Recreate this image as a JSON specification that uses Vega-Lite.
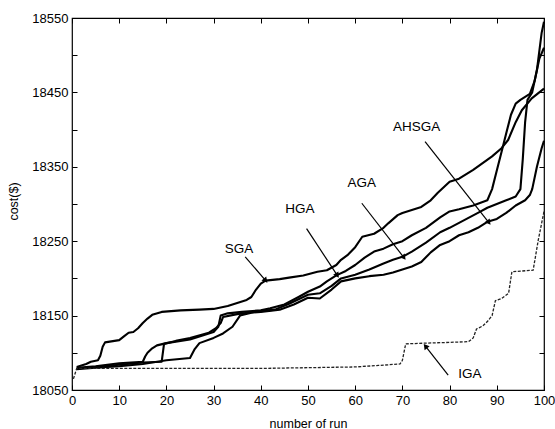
{
  "$schema": "https://vega.github.io/schema/vega-lite/v6.json",
  "width": 472,
  "height": 372,
  "autosize": "none",
  "padding": {"left": 72, "top": 18, "right": 11, "bottom": 39},
  "background": "white",
  "config": {
    "view": {"stroke": "black", "strokeWidth": 1.2},
    "font": "Liberation Sans",
    "axis": {
      "domain": false,
      "grid": false,
      "ticks": true,
      "tickColor": "black",
      "tickSize": -5,
      "tickWidth": 1,
      "labelPadding": 9,
      "labelFont": "Liberation Sans",
      "labelFontSize": 13,
      "labelColor": "black",
      "labelFlush": false,
      "labelOverlap": false,
      "labelBound": false,
      "titleFont": "Liberation Sans",
      "titleFontSize": 12.5,
      "titleFontWeight": "normal",
      "titleColor": "black"
    }
  },
  "datasets": {
    "solid": [
      {"s":"SGA","run":1,"cost":18081},{"s":"SGA","run":2,"cost":18083},{"s":"SGA","run":3,"cost":18085},{"s":"SGA","run":4,"cost":18088},{"s":"SGA","run":5.5,"cost":18090},{"s":"SGA","run":6,"cost":18096},{"s":"SGA","run":6.5,"cost":18108},{"s":"SGA","run":7,"cost":18114},{"s":"SGA","run":8,"cost":18115},{"s":"SGA","run":9,"cost":18116},{"s":"SGA","run":10,"cost":18117},{"s":"SGA","run":11,"cost":18122},{"s":"SGA","run":12,"cost":18127},{"s":"SGA","run":13,"cost":18128},{"s":"SGA","run":14,"cost":18133},{"s":"SGA","run":15,"cost":18140},{"s":"SGA","run":16,"cost":18146},{"s":"SGA","run":17,"cost":18151},{"s":"SGA","run":19,"cost":18155},{"s":"SGA","run":23,"cost":18157},{"s":"SGA","run":27,"cost":18158},{"s":"SGA","run":30,"cost":18159},{"s":"SGA","run":33,"cost":18163},{"s":"SGA","run":35,"cost":18167},{"s":"SGA","run":37,"cost":18171},{"s":"SGA","run":38,"cost":18175},{"s":"SGA","run":39,"cost":18185},{"s":"SGA","run":40,"cost":18193},{"s":"SGA","run":41,"cost":18197},{"s":"SGA","run":44,"cost":18199},{"s":"SGA","run":46,"cost":18201},{"s":"SGA","run":49,"cost":18204},{"s":"SGA","run":52,"cost":18209},{"s":"SGA","run":54,"cost":18211},{"s":"SGA","run":56,"cost":18218},{"s":"SGA","run":57,"cost":18225},{"s":"SGA","run":58.5,"cost":18232},{"s":"SGA","run":60,"cost":18242},{"s":"SGA","run":61.5,"cost":18256},{"s":"SGA","run":64,"cost":18260},{"s":"SGA","run":66,"cost":18268},{"s":"SGA","run":67,"cost":18274},{"s":"SGA","run":69,"cost":18285},{"s":"SGA","run":70,"cost":18288},{"s":"SGA","run":72,"cost":18292},{"s":"SGA","run":74,"cost":18296},{"s":"SGA","run":76,"cost":18305},{"s":"SGA","run":77.5,"cost":18315},{"s":"SGA","run":80,"cost":18330},{"s":"SGA","run":82,"cost":18334},{"s":"SGA","run":85,"cost":18346},{"s":"SGA","run":87,"cost":18355},{"s":"SGA","run":89,"cost":18364},{"s":"SGA","run":91,"cost":18375},{"s":"SGA","run":92.4,"cost":18386},{"s":"SGA","run":94,"cost":18410},{"s":"SGA","run":95.3,"cost":18426},{"s":"SGA","run":97.4,"cost":18442},{"s":"SGA","run":100,"cost":18455},

      {"s":"HGA","run":1,"cost":18080},{"s":"HGA","run":5,"cost":18082},{"s":"HGA","run":10,"cost":18086},{"s":"HGA","run":15,"cost":18088},{"s":"HGA","run":15.5,"cost":18095},{"s":"HGA","run":16,"cost":18100},{"s":"HGA","run":17,"cost":18106},{"s":"HGA","run":18,"cost":18110},{"s":"HGA","run":20,"cost":18113},{"s":"HGA","run":23,"cost":18116},{"s":"HGA","run":25,"cost":18118},{"s":"HGA","run":28,"cost":18124},{"s":"HGA","run":30,"cost":18128},{"s":"HGA","run":31,"cost":18135},{"s":"HGA","run":31.5,"cost":18150},{"s":"HGA","run":33,"cost":18153},{"s":"HGA","run":36,"cost":18155},{"s":"HGA","run":40,"cost":18157},{"s":"HGA","run":42,"cost":18160},{"s":"HGA","run":45,"cost":18165},{"s":"HGA","run":48,"cost":18175},{"s":"HGA","run":50,"cost":18182},{"s":"HGA","run":52.5,"cost":18189},{"s":"HGA","run":54,"cost":18196},{"s":"HGA","run":56,"cost":18204},{"s":"HGA","run":58,"cost":18210},{"s":"HGA","run":60,"cost":18218},{"s":"HGA","run":62,"cost":18228},{"s":"HGA","run":64,"cost":18236},{"s":"HGA","run":66,"cost":18240},{"s":"HGA","run":68,"cost":18246},{"s":"HGA","run":70,"cost":18250},{"s":"HGA","run":72,"cost":18258},{"s":"HGA","run":75,"cost":18268},{"s":"HGA","run":78,"cost":18282},{"s":"HGA","run":80,"cost":18290},{"s":"HGA","run":82,"cost":18293},{"s":"HGA","run":85,"cost":18298},{"s":"HGA","run":88,"cost":18305},{"s":"HGA","run":89,"cost":18320},{"s":"HGA","run":90,"cost":18345},{"s":"HGA","run":91,"cost":18370},{"s":"HGA","run":92,"cost":18395},{"s":"HGA","run":93,"cost":18420},{"s":"HGA","run":94,"cost":18435},{"s":"HGA","run":95,"cost":18440},{"s":"HGA","run":97,"cost":18448},{"s":"HGA","run":98,"cost":18465},{"s":"HGA","run":99,"cost":18495},{"s":"HGA","run":100,"cost":18510},

      {"s":"AGA","run":1,"cost":18079},{"s":"AGA","run":5,"cost":18081},{"s":"AGA","run":10,"cost":18084},{"s":"AGA","run":15,"cost":18087},{"s":"AGA","run":19,"cost":18088},{"s":"AGA","run":19.5,"cost":18112},{"s":"AGA","run":22,"cost":18116},{"s":"AGA","run":25,"cost":18120},{"s":"AGA","run":29,"cost":18127},{"s":"AGA","run":30.5,"cost":18133},{"s":"AGA","run":31.5,"cost":18140},{"s":"AGA","run":32,"cost":18148},{"s":"AGA","run":35,"cost":18152},{"s":"AGA","run":40,"cost":18156},{"s":"AGA","run":43,"cost":18158},{"s":"AGA","run":46,"cost":18166},{"s":"AGA","run":50,"cost":18178},{"s":"AGA","run":52.5,"cost":18180},{"s":"AGA","run":55,"cost":18190},{"s":"AGA","run":57,"cost":18200},{"s":"AGA","run":60,"cost":18205},{"s":"AGA","run":63,"cost":18212},{"s":"AGA","run":66,"cost":18220},{"s":"AGA","run":68,"cost":18225},{"s":"AGA","run":70,"cost":18229},{"s":"AGA","run":72,"cost":18236},{"s":"AGA","run":75,"cost":18248},{"s":"AGA","run":78,"cost":18262},{"s":"AGA","run":80,"cost":18268},{"s":"AGA","run":83,"cost":18278},{"s":"AGA","run":86,"cost":18288},{"s":"AGA","run":88,"cost":18295},{"s":"AGA","run":90,"cost":18300},{"s":"AGA","run":92,"cost":18305},{"s":"AGA","run":94,"cost":18310},{"s":"AGA","run":95,"cost":18320},{"s":"AGA","run":95.5,"cost":18360},{"s":"AGA","run":96,"cost":18410},{"s":"AGA","run":96.5,"cost":18440},{"s":"AGA","run":97.5,"cost":18450},{"s":"AGA","run":98.5,"cost":18480},{"s":"AGA","run":99.5,"cost":18530},{"s":"AGA","run":100,"cost":18545},

      {"s":"AHSGA","run":1,"cost":18078},{"s":"AHSGA","run":5,"cost":18080},{"s":"AHSGA","run":10,"cost":18082},{"s":"AHSGA","run":15,"cost":18085},{"s":"AHSGA","run":20,"cost":18090},{"s":"AHSGA","run":25,"cost":18093},{"s":"AHSGA","run":26,"cost":18105},{"s":"AHSGA","run":27,"cost":18113},{"s":"AHSGA","run":30,"cost":18120},{"s":"AHSGA","run":32,"cost":18126},{"s":"AHSGA","run":34,"cost":18135},{"s":"AHSGA","run":35.6,"cost":18150},{"s":"AHSGA","run":38,"cost":18154},{"s":"AHSGA","run":40,"cost":18155},{"s":"AHSGA","run":44,"cost":18158},{"s":"AHSGA","run":47,"cost":18165},{"s":"AHSGA","run":50,"cost":18174},{"s":"AHSGA","run":52.5,"cost":18173},{"s":"AHSGA","run":55,"cost":18185},{"s":"AHSGA","run":57,"cost":18196},{"s":"AHSGA","run":60,"cost":18200},{"s":"AHSGA","run":63,"cost":18203},{"s":"AHSGA","run":66,"cost":18205},{"s":"AHSGA","run":68,"cost":18208},{"s":"AHSGA","run":70,"cost":18212},{"s":"AHSGA","run":72,"cost":18216},{"s":"AHSGA","run":74,"cost":18222},{"s":"AHSGA","run":76,"cost":18235},{"s":"AHSGA","run":78,"cost":18245},{"s":"AHSGA","run":80,"cost":18250},{"s":"AHSGA","run":82,"cost":18258},{"s":"AHSGA","run":84,"cost":18262},{"s":"AHSGA","run":86,"cost":18268},{"s":"AHSGA","run":88,"cost":18276},{"s":"AHSGA","run":90,"cost":18280},{"s":"AHSGA","run":92,"cost":18288},{"s":"AHSGA","run":94,"cost":18298},{"s":"AHSGA","run":96,"cost":18305},{"s":"AHSGA","run":97,"cost":18312},{"s":"AHSGA","run":97.5,"cost":18320},{"s":"AHSGA","run":98.5,"cost":18350},{"s":"AHSGA","run":99.5,"cost":18375},{"s":"AHSGA","run":100,"cost":18385}
    ],
    "iga": [
      {"s":"IGA","run":0.3,"cost":18065},{"s":"IGA","run":1,"cost":18079},{"s":"IGA","run":10,"cost":18079},{"s":"IGA","run":20,"cost":18079},{"s":"IGA","run":30,"cost":18079},{"s":"IGA","run":40,"cost":18079},{"s":"IGA","run":50,"cost":18080},{"s":"IGA","run":60,"cost":18081},{"s":"IGA","run":65,"cost":18083},{"s":"IGA","run":69.5,"cost":18085},{"s":"IGA","run":70,"cost":18090},{"s":"IGA","run":70.7,"cost":18112},{"s":"IGA","run":75,"cost":18113},{"s":"IGA","run":80,"cost":18114},{"s":"IGA","run":84,"cost":18115},{"s":"IGA","run":85,"cost":18120},{"s":"IGA","run":85.7,"cost":18132},{"s":"IGA","run":87,"cost":18136},{"s":"IGA","run":88,"cost":18142},{"s":"IGA","run":89,"cost":18150},{"s":"IGA","run":89.7,"cost":18170},{"s":"IGA","run":91,"cost":18173},{"s":"IGA","run":92.5,"cost":18180},{"s":"IGA","run":93.2,"cost":18209},{"s":"IGA","run":97.7,"cost":18211},{"s":"IGA","run":98.8,"cost":18252},{"s":"IGA","run":100,"cost":18290}
    ],
    "notes": [
      {"label":"SGA","tx":35.4,"ty":18239,"x1":36.7,"y1":18229,"x2":40.9,"y2":18198,"ang":139},
      {"label":"HGA","tx":48.3,"ty":18293,"x1":49.7,"y1":18267,"x2":56.1,"y2":18205,"ang":147},
      {"label":"AGA","tx":61.4,"ty":18328,"x1":61.4,"y1":18301,"x2":70.2,"y2":18229,"ang":142},
      {"label":"AHSGA","tx":73,"ty":18404,"x1":74.8,"y1":18384,"x2":88.2,"y2":18276,"ang":142},
      {"label":"IGA","tx":84.3,"ty":18071,"x1":79.7,"y1":18070,"x2":75,"y2":18108,"ang":322}
    ]
  },
  "layer": [
    {
      "data": {"name": "solid"},
      "mark": {"type": "line", "color": "black", "strokeWidth": 2.1, "strokeJoin": "round"},
      "encoding": {
        "x": {"field": "run", "type": "quantitative", "scale": {"domain": [0, 100], "nice": false},
          "axis": {"orient": "bottom", "values": [0,10,20,30,40,50,60,70,80,90,100], "format": "d", "title": "number of run", "titleY": 27, "titleBaseline": "top"}},
        "y": {"field": "cost", "type": "quantitative", "scale": {"domain": [18050, 18550], "nice": false, "zero": false},
          "axis": {"orient": "left", "values": [18050,18100,18150,18200,18250,18300,18350,18400,18450,18500,18550], "format": "d",
            "labelExpr": "datum.value % 100 == 50 ? datum.label : ''", "title": "cost($)", "titleX": -52, "titleY": 183}},
        "detail": {"field": "s"},
        "order": {"field": "run", "type": "quantitative"}
      }
    },
    {
      "data": {"name": "iga"},
      "mark": {"type": "line", "color": "#222", "strokeWidth": 1.3, "strokeDash": [3, 1.5]},
      "encoding": {
        "x": {"field": "run", "type": "quantitative",
          "axis": {"orient": "top", "values": [0,10,20,30,40,50,60,70,80,90,100], "labels": false, "title": null}},
        "y": {"field": "cost", "type": "quantitative",
          "axis": {"orient": "right", "values": [18050,18100,18150,18200,18250,18300,18350,18400,18450,18500,18550], "labels": false, "title": null}},
        "order": {"field": "run", "type": "quantitative"}
      }
    },
    {
      "data": {"name": "notes"},
      "mark": {"type": "rule", "color": "black", "strokeWidth": 1.2},
      "encoding": {
        "x": {"field": "x1", "type": "quantitative", "axis": null},
        "y": {"field": "y1", "type": "quantitative", "axis": null},
        "x2": {"field": "x2"},
        "y2": {"field": "y2"}
      }
    },
    {
      "data": {"name": "notes"},
      "mark": {"type": "point", "shape": "triangle", "filled": true, "color": "black", "size": 40, "opacity": 1},
      "encoding": {
        "x": {"field": "x2", "type": "quantitative", "axis": null},
        "y": {"field": "y2", "type": "quantitative", "axis": null},
        "angle": {"field": "ang", "type": "quantitative", "scale": null}
      }
    },
    {
      "data": {"name": "notes"},
      "mark": {"type": "text", "font": "Liberation Sans", "fontSize": 13.5, "color": "black", "align": "center", "baseline": "middle"},
      "encoding": {
        "x": {"field": "tx", "type": "quantitative", "axis": null},
        "y": {"field": "ty", "type": "quantitative", "axis": null},
        "text": {"field": "label"}
      }
    }
  ],
  "resolve": {"axis": {"x": "independent", "y": "independent"}}
}
